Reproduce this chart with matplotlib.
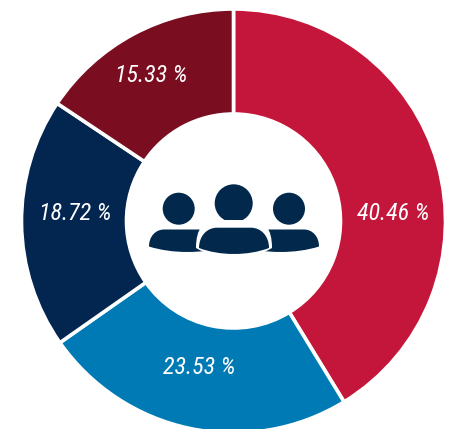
import matplotlib
matplotlib.use("Agg")
import matplotlib.pyplot as plt
from matplotlib.patches import Circle, PathPatch
from matplotlib.path import Path

labels = ["40.46 %", "23.53 %", "18.72 %", "15.33 %"]
values = [40.46, 23.53, 18.72, 15.33]
colors = ["#C4163A", "#007AB5", "#02264F", "#7A0D1F"]

NAVY = "#02294C"
H = 429


def body(x0, x1, top, bottom, edge, r, color=NAVY, z=3):
  # one shoulder shape of the people icon, y is given from the top of the image
  span = (x1 - x0) * 0.3
  low = edge + (bottom - edge) * 4 / 3
  verts = [(x0, H - edge),
           (x0, H - top - r * 0.45), (x0 + r * 0.45, H - top), (x0 + r, H - top),
           (x1 - r, H - top),
           (x1 - r * 0.45, H - top), (x1, H - top - r * 0.45), (x1, H - edge),
           (x1 - span, H - low), (x0 + span, H - low), (x0, H - edge),
           (x0, H - edge)]
  codes = [Path.MOVETO, Path.CURVE4, Path.CURVE4, Path.CURVE4, Path.LINETO,
           Path.CURVE4, Path.CURVE4, Path.CURVE4,
           Path.CURVE4, Path.CURVE4, Path.CURVE4, Path.CLOSEPOLY]
  return PathPatch(Path(verts, codes), facecolor=color, edgecolor="none", zorder=z)


fig = plt.figure(figsize=(4.53, 4.29), dpi=100)
ax = fig.add_axes([0, 0, 1, 1])

cx, cy = 233.5, H - 221
ax.pie(values, colors=colors, startangle=90, counterclock=False,
       center=(cx, cy), radius=212,
       wedgeprops=dict(width=105, edgecolor="white", linewidth=2.6))
ax.set_xlim(0, 453)
ax.set_ylim(0, H)
ax.set_aspect("equal")
ax.axis("off")

label_pos = [(393, 213), (199, 368), (75, 213), (151, 75)]
for text, (x, y) in zip(labels, label_pos):
  ax.text(x, H - y, text, color="white", fontsize=17.4, style="italic",
          family=["Roboto Condensed", "Roboto", "DejaVu Sans"],
          ha="center", va="center", zorder=4)

# people icon in the middle of the ring
ax.add_patch(Circle((178.7, H - 208.7), 16, facecolor=NAVY, edgecolor="none", zorder=3))
ax.add_patch(Circle((233.7, H - 203.3), 19, facecolor=NAVY, edgecolor="none", zorder=3))
ax.add_patch(Circle((289, H - 208.7), 16, facecolor=NAVY, edgecolor="none", zorder=3))
ax.add_patch(body(149, 226, 229.5, 252, 246.5, 15))
ax.add_patch(body(242, 319, 229.5, 252, 246.5, 15))
ax.add_patch(body(196, 272, 220, 258, 248, 18, color="white", z=3.2))
ax.add_patch(body(199, 269, 227.7, 254, 248, 18, z=3.3))

fig.savefig("out.png", dpi=100)
plt.close(fig)
